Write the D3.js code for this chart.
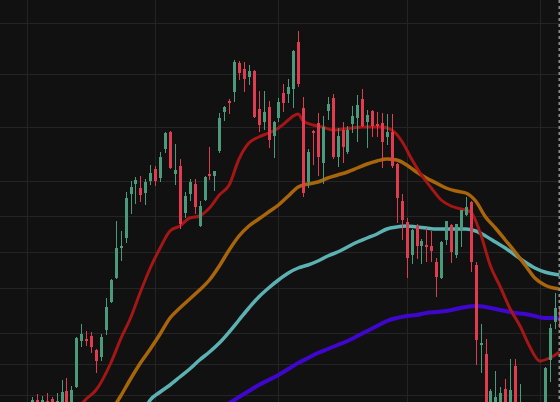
<!DOCTYPE html>
<html>
<head>
<meta charset="utf-8">
<title>Candlesticks with moving averages</title>
<!-- Load d3.js -->
<script src="https://d3js.org/d3.v7.min.js"></script>
<style>
  body { margin: 0; background: #111111; overflow: hidden; }
</style>
</head>
<body>
<!-- Create a div where the graph will take place -->
<div id="my_dataviz"></div>
<script>

// candle data, one entry per bar (index 0 = first bar on screen)
var opens  = [19.2,20.0,19.6,19.9,20.1,19.5,19.7,20.9,19.6,21.3, 25.9,26.1,26.4,25.0,24.3,27.0,29.8,32.2,35.2,36.2,
              40.6,41.6,41.2,40.7,41.9,43.1,42.2,45.1,46.8,42.6, 43.4,38.7,40.6,41.6,37.4,40.0,42.6,42.4,44.9,48.8,
              49.9,50.8,53.7,53.1,52.3,52.9,49.1,47.8,49.3,46.4, 48.2,50.7,50.6,51.1,55.8,49.2,41.8,46.9,47.7,43.7,
              48.9,50.2,44.3,47.0,44.8,47.6,48.2,50.1,47.8,48.9, 47.6,47.7,46.3,46.8,43.6,39.9,37.8,34.5,37.4,35.4,
              35.5,35.4,33.8,32.2,36.0,37.5,34.5,37.0,38.5,39.8, 33.5,25.5,24.6,18.8,19.0,19.2,21.1,19.3,23.4,18.8,
              18.5,17.5,18.4,18.0,19.0,24.0,27.8,29.2];
var highs  = [20.3,20.6,20.4,20.7,20.3,20.7,22.0,22.2,21.4,26.3, 27.6,26.9,26.8,25.1,26.6,30.2,32.1,37.9,36.9,40.8,
              41.9,42.3,42.4,42.1,43.5,43.4,44.8,46.8,46.9,45.6, 44.1,40.8,42.1,42.1,39.9,42.4,45.3,42.9,48.7,49.4,
              50.1,54.0,53.9,53.8,53.5,53.0,50.9,50.9,49.9,47.9, 50.2,51.6,52.1,55.0,56.9,50.3,45.1,47.0,48.7,48.4,
              50.3,50.6,47.2,47.8,47.4,49.4,50.5,51.1,49.0,49.0, 48.8,48.7,48.6,48.6,43.7,40.6,38.2,37.1,37.6,36.1,
              37.2,36.9,34.2,35.9,37.9,37.6,37.6,39.0,40.3,39.9, 33.8,27.6,26.1,21.1,22.9,21.3,22.1,24.1,24.1,21.6,
              19.5,19.0,19.2,19.6,23.3,27.6,30.7,30.0];
var lows   = [18.8,19.2,19.3,19.3,19.2,19.2,19.4,19.3,19.4,21.2, 25.3,25.4,24.7,22.7,23.9,26.5,29.7,32.1,33.9,35.7,
              38.6,39.6,39.8,39.5,41.5,41.4,41.8,44.7,43.1,41.5, 37.1,38.2,39.9,38.6,37.3,39.9,42.0,40.9,44.7,47.9,
              48.6,49.8,52.0,50.8,51.5,48.2,46.8,47.0,45.2,44.2, 47.8,48.8,49.7,49.2,51.3,40.3,41.2,43.5,42.4,41.6,
              48.0,44.1,43.3,43.7,44.6,46.7,45.8,47.3,45.2,46.3, 46.3,43.2,45.5,43.2,37.7,36.0,32.2,33.6,34.1,33.6,
              33.8,33.8,30.3,32.1,35.5,33.7,34.2,35.3,38.4,32.8, 23.5,22.7,18.6,18.4,18.6,18.8,18.8,19.0,18.6,18.4,
              17.2,17.0,17.0,17.5,18.8,21.8,27.1,27.0];
var closes = [20.0,19.5,20.0,19.6,19.6,19.9,20.8,19.6,21.0,26.2, 26.6,25.9,25.3,23.9,26.3,29.3,32.0,35.2,35.4,40.2,
              41.3,42.0,40.5,41.8,42.7,41.9,44.3,46.7,43.2,43.0, 37.6,40.4,41.8,39.3,39.4,42.3,42.4,42.9,48.2,49.3,
              49.7,53.8,52.7,52.1,52.9,48.3,47.5,48.8,46.0,47.8, 49.8,49.7,51.3,54.9,51.6,40.7,44.8,46.7,44.3,47.3,
              49.6,44.3,46.4,45.3,47.0,48.4,49.5,47.4,48.5,47.4, 47.4,45.8,46.8,43.4,40.2,38.0,34.2,37.0,35.4,35.9,
              35.3,34.9,32.3,35.8,37.9,34.8,37.6,39.0,39.3,33.8, 26.0,25.7,19.0,20.9,20.3,20.7,19.2,21.0,19.0,19.5,
              18.0,18.5,17.8,19.2,23.2,27.2,29.2,27.2];

// moving averages as [bar index, value]
var maFast = [[9,19.0],[11,20.1],[13,21.0],[16,23.7],[18,26.1],[20,28.2],[22,30.8],[24,33.2],[26,35.2],[28,36.9],
              [30,37.4],[32,38.2],[34,38.4],[36,39.2],[38,40.5],[40,41.5],[42,44.1],[44,45.7],[46,46.3],[48,46.7],
              [50,47.2],[52,48.0],[53,48.4],[54,48.6],[55,47.9],[57,47.5],[59,47.3],[61,47.0],[63,47.1],[65,47.2],
              [67,47.3],[69,47.3],[71,47.3],[73,47.0],[75,45.9],[77,44.1],[79,42.5],[81,41.2],[83,40.0],[85,39.4],
              [87,39.1],[89,38.8],[91,36.6],[93,33.4],[95,31.3],[97,29.1],[99,27.4],[101,25.3],[103,23.9],[105,24.2],[107,24.8]];
var maMid  = [[16,18.8],[18,20.4],[20,22.1],[22,23.7],[24,25.1],[26,26.6],[28,28.2],[30,29.2],[32,30.1],[34,31.0],
              [36,32.0],[38,33.4],[40,35.0],[42,36.4],[44,37.4],[46,38.1],[48,38.8],[50,39.5],[52,40.4],[54,41.3],
              [56,41.6],[58,41.8],[60,42.2],[62,42.5],[64,42.8],[66,43.2],[68,43.6],[70,43.9],[72,44.1],[74,44.0],
              [76,43.5],[78,42.8],[80,42.2],[82,41.7],[84,41.2],[86,40.9],[88,40.7],[90,39.9],[92,38.3],[94,37.2],
              [96,36.0],[98,34.8],[100,33.5],[102,32.2],[104,31.5],[107,31.1]];
var maSlow = [[23,19.2],[24,20.0],[26,20.8],[28,21.5],[30,22.3],[32,23.1],[34,24.0],[36,24.8],[38,25.7],[40,26.8],
              [42,28.0],[44,29.2],[46,30.3],[48,31.2],[50,32.0],[52,32.7],[54,33.2],[56,33.5],[58,33.9],[60,34.4],
              [62,34.8],[64,35.3],[66,35.8],[68,36.2],[70,36.6],[72,37.1],[74,37.3],[76,37.4],[78,37.3],[80,37.2],
              [82,37.1],[84,37.1],[86,37.1],[88,37.1],[90,36.9],[92,36.4],[94,35.8],[96,35.2],[98,34.5],[100,33.8],
              [102,33.2],[104,32.8],[107,32.5]];
var maLong = [[39,19.5],[40,19.7],[42,20.3],[44,20.9],[46,21.5],[48,22.0],[50,22.5],[52,23.1],[54,23.7],[56,24.2],
              [58,24.7],[60,25.1],[62,25.5],[64,25.9],[66,26.4],[68,26.9],[70,27.4],[72,27.9],[74,28.2],[76,28.4],
              [78,28.5],[80,28.7],[82,28.8],[84,28.9],[86,29.1],[88,29.3],[90,29.4],[92,29.3],[94,29.1],[96,28.9],
              [98,28.7],[100,28.6],[102,28.4],[104,28.2],[107,28.2]];

// grid positions
var priceTicks = [57.7, 52.6, 47.3, 41.9, 38.4, 34.8, 31.2, 26.7, 23.6, 20.5];
var timeTicks = [-1, 25, 50, 76, 103];

var width = 560, height = 402;

var data = opens.map(function(o, i) {
  return {i: i, open: o, high: highs[i], low: lows[i], close: closes[i]};
});

var svg = d3.select("#my_dataviz")
  .append("svg")
    .attr("width", width)
    .attr("height", height)
    .style("display", "block");

svg.append("rect")
  .attr("width", width)
  .attr("height", height)
  .attr("fill", "#111111");

var x = d3.scaleLinear()
  .domain([-1, 107])
  .range([27, 559.5]);

var y = d3.scaleLinear()
  .domain([19.8, 60])
  .range([height, 0]);

// grid lines
svg.append("g")
  .selectAll("line")
  .data(priceTicks)
  .enter().append("line")
    .attr("x1", 0).attr("x2", width)
    .attr("y1", function(d) { return Math.round(y(d)) + 0.5; })
    .attr("y2", function(d) { return Math.round(y(d)) + 0.5; })
    .attr("stroke", "#242424");

svg.append("g")
  .selectAll("line")
  .data(timeTicks)
  .enter().append("line")
    .attr("y1", 0).attr("y2", height)
    .attr("x1", function(d) { return Math.round(x(d)) + 0.5; })
    .attr("x2", function(d) { return Math.round(x(d)) + 0.5; })
    .attr("stroke", "#242424");

// moving average lines (drawn under the candles)
var line = d3.line()
  .x(function(d) { return x(d[0]); })
  .y(function(d) { return y(d[1]); })
  .curve(d3.curveMonotoneX);

var maList = [
  {values: maLong, color: "#3f06cc", w: 4},
  {values: maSlow, color: "#5cb2b2", w: 3.5},
  {values: maMid,  color: "#a8650a", w: 3.5},
  {values: maFast, color: "#a51616", w: 3}
];

svg.append("g")
  .selectAll("path")
  .data(maList)
  .enter().append("path")
    .attr("d", function(d) { return line(d.values); })
    .attr("fill", "none")
    .attr("stroke", function(d) { return d.color; })
    .attr("stroke-width", function(d) { return d.w; })
    .attr("stroke-linejoin", "round");

// candles
var up = "#4c9a7c", down = "#e03c4f";
var candle = svg.append("g")
  .selectAll("g")
  .data(data)
  .enter().append("g")
    .attr("fill", function(d) { return d.close >= d.open ? up : down; })
    .attr("stroke", function(d) { return d.close >= d.open ? up : down; });

candle.append("line")
  .attr("x1", function(d) { return Math.round(x(d.i)) + 0.5; })
  .attr("x2", function(d) { return Math.round(x(d.i)) + 0.5; })
  .attr("y1", function(d) { return y(d.high); })
  .attr("y2", function(d) { return y(d.low); })
  .attr("stroke-width", 1);

candle.append("rect")
  .attr("x", function(d) { return Math.round(x(d.i)) - 1; })
  .attr("width", 3)
  .attr("y", function(d) { return y(Math.max(d.open, d.close)); })
  .attr("height", function(d) { return Math.max(1, Math.abs(y(d.open) - y(d.close))); })
  .attr("stroke", "none");

// dashed marker on the last bar
svg.append("line")
  .attr("x1", Math.round(x(107)) - 0.5)
  .attr("x2", Math.round(x(107)) - 0.5)
  .attr("y1", 0)
  .attr("y2", height)
  .attr("stroke", "#8a8a8a")
  .attr("stroke-width", 2)
  .attr("stroke-dasharray", "3,3");

</script>
</body>
</html>
